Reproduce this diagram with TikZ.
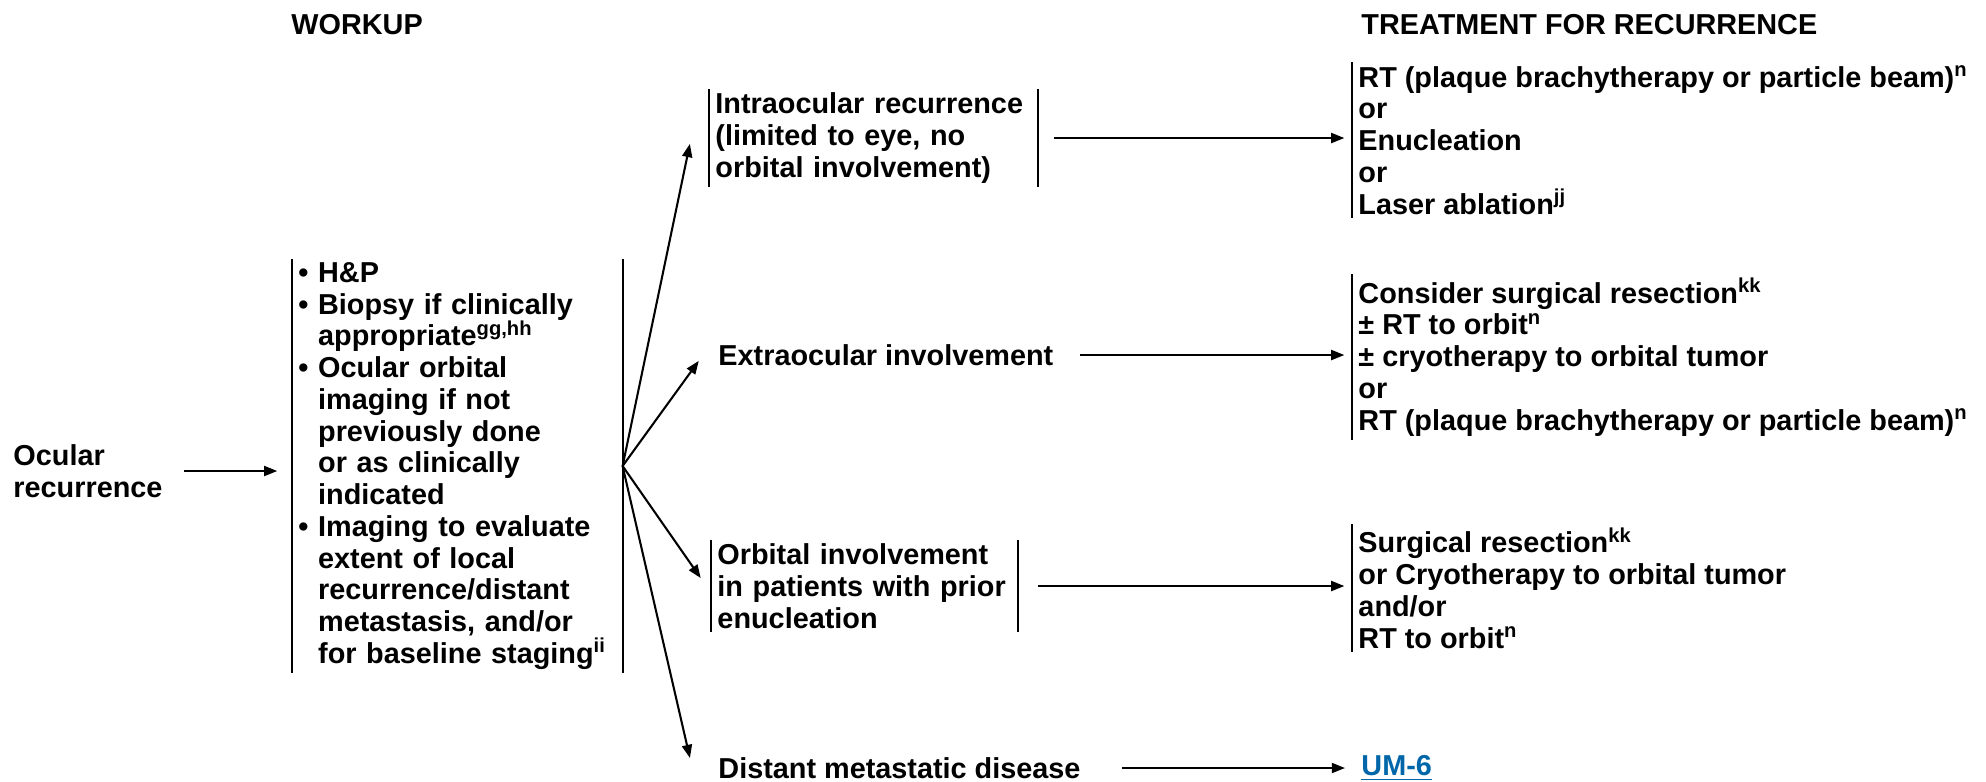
\documentclass[tikz,border=0pt]{standalone}
\usepackage{fontspec}
\setmainfont{Liberation Sans}
\usepackage{tikz}
\usetikzlibrary{arrows.meta, positioning, calc}

\definecolor{linkblue}{RGB}{0,102,170}

\newcommand{\bul}{\textbullet\ }
\newcommand{\hang}{\phantom{\textbullet\ }}
\newcommand{\fn}[1]{\textsuperscript{#1}}

\begin{document}
\begin{tikzpicture}[x=0.34pt, y=-0.34pt,
    every node/.style={font=\bfseries\fontsize{9.8}{10.8}\selectfont, inner xsep=2pt, inner ysep=1pt, anchor=west, align=left},
    arr/.style={line width=0.7pt, -{Triangle[length=4.5pt, width=3.4pt]}, shorten >=2.6pt},
    bar/.style={line width=0.7pt}]
    \useasboundingbox (0,0) rectangle (1986,781);

    % column headers
    \node (hwork) at (285,25) {WORKUP};
    \node (htreat) at (1355,25) {TREATMENT FOR RECURRENCE};

    % workup
    \node (ocu) at (7,471) {Ocular\\recurrence};
    \node[text width=108pt] (wk) at (292,466) {\bul H\&P\\
        \bul Biopsy if clinically\\ \hang appropriate\fn{gg,hh}\\
        \bul Ocular orbital\\ \hang imaging if not\\ \hang previously done\\
        \hang or as clinically\\ \hang indicated\\
        \bul Imaging to evaluate\\ \hang extent of local\\
        \hang recurrence/distant\\ \hang metastasis, and/or\\
        \hang for baseline staging\fn{ii}};

    % sites of recurrence
    \node[text width=107.5pt] (intra) at (709,138) {Intraocular recurrence\\(limited to eye, no\\orbital involvement)};
    \node (extra) at (712,355) {Extraocular involvement};
    \node[text width=100pt] (orb) at (711,586) {Orbital involvement\\in patients with prior\\enucleation};
    \node (dist) at (712,768) {Distant metastatic disease};

    % treatment
    \node (rt1) at (1352,140) {RT (plaque brachytherapy or particle beam)\fn{n}\\or\\Enucleation\\or\\Laser ablation\fn{jj}};
    \node (rt2) at (1352,357) {Consider surgical resection\fn{kk}\\± RT to orbit\fn{n}\\± cryotherapy to orbital tumor\\or\\RT (plaque brachytherapy or particle beam)\fn{n}};
    \node (rt3) at (1352,588) {Surgical resection\fn{kk}\\or Cryotherapy to orbital tumor\\and/or\\RT to orbit\fn{n}};
    \node[text=linkblue] (um) at (1355,768) {\underline{UM-6}};

    % side bars
    \foreach \n in {wk, intra, orb, rt1, rt2, rt3}
        \draw[bar] (\n.north west) -- (\n.south west);
    \foreach \n in {wk, intra, orb}
        \draw[bar] (\n.north east) -- (\n.south east);

    % connectors
    \draw[arr, shorten <=5pt, shorten >=5pt] (ocu.east) -- (ocu.east -| wk.west);
    \draw[arr, shorten >=0pt] (wk.east) -- ([xshift=-6.5pt, yshift=-2pt]intra.west);
    \draw[arr, shorten >=0pt] (wk.east) -- ([xshift=-4.5pt, yshift=-2pt]extra.west);
    \draw[arr, shorten >=0pt] (wk.east) -- ([xshift=-3.5pt, yshift=2.7pt]orb.west);
    \draw[arr, shorten >=0pt] (wk.east) -- ([xshift=-7.5pt, yshift=3.4pt]dist.west);

    \draw[arr, shorten <=5.4pt] (intra.east) -- (intra.east -| rt1.west);
    \draw[arr, shorten <=7pt] (extra.east) -- (extra.east -| rt2.west);
    \draw[arr, shorten <=6.8pt] (orb.east) -- (orb.east -| rt3.west);
    \draw[arr, shorten <=12pt, shorten >=3.4pt] (dist.east) -- (dist.east -| um.west);
\end{tikzpicture}
\end{document}
